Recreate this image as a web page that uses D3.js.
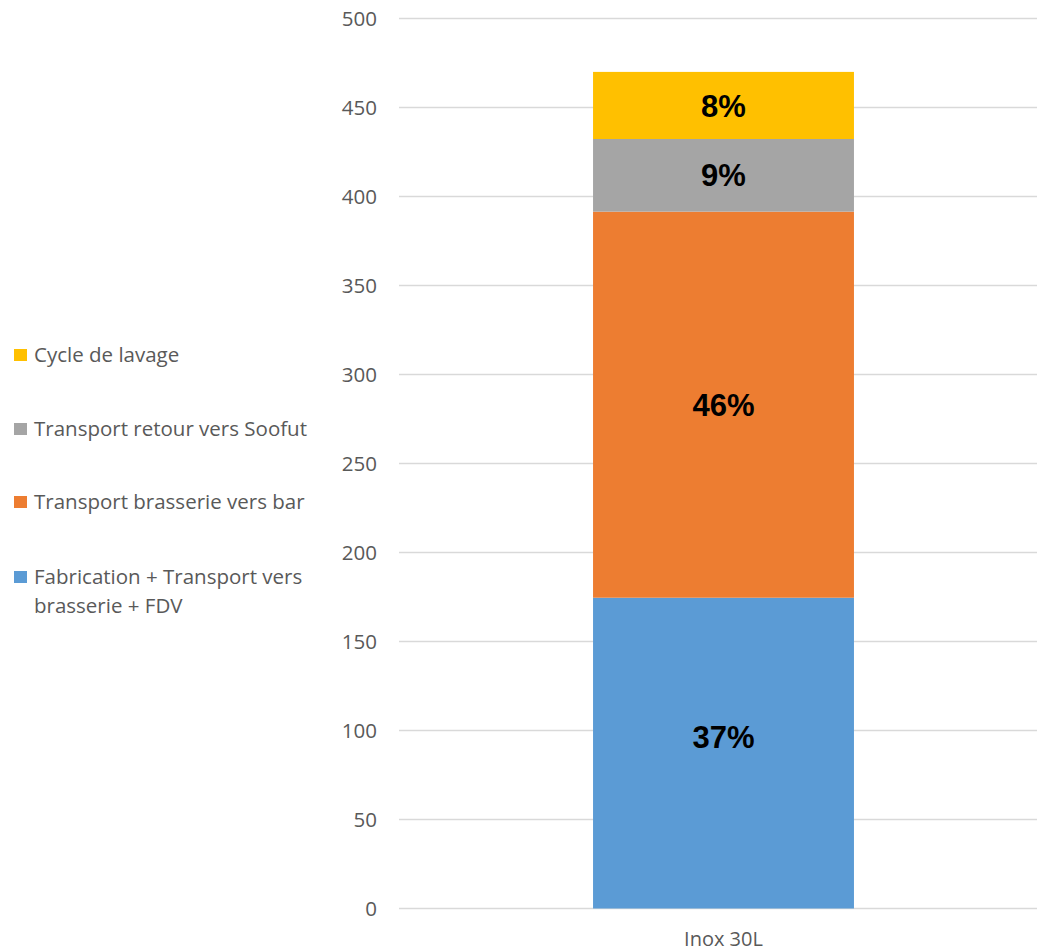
<!DOCTYPE html>
<html>
<head>
<meta charset="utf-8">
<script src="https://cdn.jsdelivr.net/npm/d3@7"></script>
<style>
  html, body { margin: 0; padding: 0; background: #fff; }
  svg { display: block; }
</style>
</head>
<body>
<svg id="chart" width="1037" height="951"></svg>
<script>
// Stacked column: impact breakdown for one keg type
const categories = ["Inox 30L"];
const seriesNames = [
  "Fabrication + Transport vers brasserie + FDV",
  "Transport brasserie vers bar",
  "Transport retour vers Soofut",
  "Cycle de lavage"
];
const seriesValues = [
  [174.6],  // Fabrication + Transport vers brasserie + FDV
  [216.9],  // Transport brasserie vers bar
  [40.8],   // Transport retour vers Soofut
  [37.7]    // Cycle de lavage
];
const seriesColors = ["#5B9BD5", "#ED7D31", "#A5A5A5", "#FFC000"];
const yTicks = [0, 50, 100, 150, 200, 250, 300, 350, 400, 450, 500];

const svg = d3.select("#chart");
const textFont = "'Open Sans', Lato, sans-serif";
const textSize = 20.5;
const textColor = "#595959";

const plot = { left: 399, right: 1048, top: 18.5, bottom: 908.5 };

const y = d3.scaleLinear().domain([0, 500]).range([plot.bottom, plot.top]);
const x = d3.scaleBand().domain(categories).range([plot.left, plot.right])
  .paddingInner(0.4265).paddingOuter(0.4265);

// Gridlines
svg.append("g").selectAll("line").data(yTicks).join("line")
  .attr("x1", plot.left).attr("x2", plot.right)
  .attr("y1", d => y(d)).attr("y2", d => y(d))
  .attr("stroke", "#D9D9D9").attr("stroke-width", 1.5);

// Y axis tick labels
const yAxis = d3.axisLeft(y).tickValues(yTicks).tickSize(0).tickPadding(0);
const yg = svg.append("g").attr("transform", `translate(377,0)`).call(yAxis);
yg.select(".domain").remove();
yg.selectAll("text")
  .attr("font-family", textFont).attr("font-size", textSize)
  .attr("fill", textColor).attr("dy", "0.35em");

// Stack the series
const rows = categories.map((c, i) => {
  const r = { cat: c };
  seriesNames.forEach((s, k) => { r[s] = seriesValues[k][i]; });
  return r;
});
const stacked = d3.stack().keys(seriesNames)(rows);
const totals = rows.map(r => d3.sum(seriesNames, s => r[s]));

const layers = svg.append("g").selectAll("g").data(stacked).join("g")
  .attr("fill", (d, i) => seriesColors[i]);

layers.selectAll("rect").data(d => d).join("rect")
  .attr("x", d => x(d.data.cat))
  .attr("width", x.bandwidth())
  .attr("y", d => y(d[1]))
  .attr("height", d => y(d[0]) - y(d[1]));

// Percentage labels inside each segment (the base label sits a little higher)
layers.each(function(layer, k) {
  const nudge = k === 0 ? -16 : 0;
  d3.select(this).selectAll("text").data(layer).join("text")
    .attr("x", d => x(d.data.cat) + x.bandwidth() / 2)
    .attr("y", d => (y(d[0]) + y(d[1])) / 2 + nudge)
    .attr("dy", "0.36em")
    .attr("text-anchor", "middle")
    .attr("font-family", "'Liberation Sans', Arial, sans-serif")
    .attr("font-weight", "bold")
    .attr("font-size", 31)
    .attr("fill", "#000")
    .text((d, j) => Math.round((d[1] - d[0]) / totals[j] * 100) + "%");
});

// Category axis label
svg.append("g").selectAll("text").data(categories).join("text")
  .attr("x", d => x(d) + x.bandwidth() / 2)
  .attr("y", 946)
  .attr("text-anchor", "middle")
  .attr("font-family", textFont).attr("font-size", 20)
  .attr("fill", textColor)
  .text(d => d);

// Legend (top to bottom: last series first)
const legendItems = [
  { idx: 3, lines: ["Cycle de lavage"], y: 355 },
  { idx: 2, lines: ["Transport retour vers Soofut"], y: 429 },
  { idx: 1, lines: ["Transport brasserie vers bar"], y: 502 },
  { idx: 0, lines: ["Fabrication + Transport vers", "brasserie + FDV"], y: 577 }
];
const lg = svg.append("g").selectAll("g").data(legendItems).join("g");
lg.append("rect")
  .attr("x", 14).attr("y", d => d.y - 6)
  .attr("width", 13).attr("height", 12)
  .attr("fill", d => seriesColors[d.idx]);
lg.each(function(d) {
  const t = d3.select(this).append("text")
    .attr("font-family", textFont).attr("font-size", textSize)
    .attr("fill", textColor);
  d.lines.forEach((ln, k) => {
    t.append("tspan").attr("x", 34).attr("y", d.y + k * 28.5).attr("dy", "0.35em").text(ln);
  });
});
</script>
</body>
</html>
